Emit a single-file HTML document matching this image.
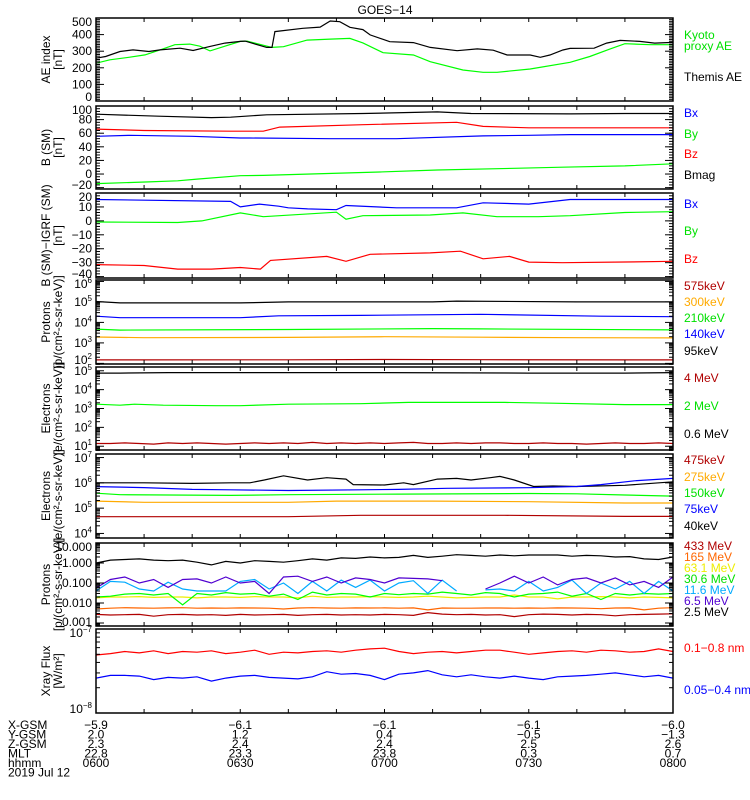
<!DOCTYPE html>
<html><head><meta charset="utf-8">
<style>
html,body{margin:0;padding:0;background:#fff;}
svg{display:block;font-family:"Liberation Sans",sans-serif;}
</style></head>
<body>
<svg id="chart" width="750" height="800" viewBox="0 0 750 800"></svg>
<script>
// ---------- DATA (minutes since 06:00) ----------
const aeThemisT=[0,2,5,7.7,11,13.3,17.5,20.2,23.7,26.8,30,31,35.5,36.6,37.2,43,46.6,48.7,50.7,52.8,55.5,57,61.1,66,69.5,75.1,79.3,82.6,85.5,90.3,92.4,94.4,97.1,98.6,103.6,106.2,109,113.1,116.2,120];
const aeThemisV=[258,268,298,308,298,308,318,304,329,349,359,361,323,323,418,438,445,482,478,444,430,398,357,352,323,303,314,306,277,277,263,277,307,317,318,349,365,359,349,353];
const aeKyotoT=[0,2.9,7,10.2,13.3,16.4,19.5,21.6,23.7,26.8,30,31.4,36.6,39,43.9,48.7,52.8,55.5,59.7,66,69.5,76.3,80.5,83.4,90.3,98.6,102.7,106.8,110,115.2,120];
const aeKyotoV=[228,248,264,278,308,339,343,330,302,330,359,361,323,327,367,373,377,350,291,277,237,187,173,173,193,233,268,312,345,339,339];

const bmagT=[0,13,24,28,35.5,55.5,71,78,98.6,110,120];
const bmagV=[88,85,83,83.6,87,89,91.3,89,88.4,89,89];
const bzT=[0,10,28,34.8,38.2,55.5,75,80.5,90,98.6,110,120];
const bzV=[66,64,63,63,69,72.5,76,70,68,68,68,68];
const bxT=[0,7,20,30,32,48.7,62.5,80.5,90,98.6,110,120];
const bxV=[55.5,57,55.5,53,53,52,52,56,57,58,58,58];
const byT=[0,11,17,21,30,34.8,59,71,87,97,110,120];
const byV=[-14,-11.5,-10,-7.5,-2.5,-2,3,6,8.4,10,12,15];

const dbxT=[0,28,30,34,38,40,44,50,52,62.5,75,80.5,90,98.6,110,120];
const dbxV=[15.3,14,10,12,10.5,9.4,8.6,8,11,9.4,9.4,13,12,15.3,15.3,15.3];
const dbyT=[0,17,22,30,34.8,50,52,55.5,69.5,76.3,83.4,92,98.6,110,120];
const dbyV=[-0.8,-1.2,0,5.7,3,6.2,1.2,3.7,4.2,5.7,3,3,3.7,6,6.6];
const dbzT=[0,10,17,24,30,34.2,36.3,48,52,57,69.5,75.8,80.5,86,90,97,110,120];
const dbzV=[-31.4,-32,-34.6,-34.6,-33.5,-34.6,-28.4,-25.5,-29,-24,-23,-21.8,-27.2,-25.5,-29.6,-30,-29.5,-29];

const p95T=[0,5,30,40,70,75,100,120];   const p95V=[1.05e5,0.9e5,0.9e5,1.0e5,1.0e5,1.1e5,1.0e5,1.0e5];
const p140T=[0,5,30,38,55,80,105,120];  const p140V=[2.0e4,1.7e4,1.7e4,2.1e4,2.2e4,2.5e4,2.0e4,1.9e4];
const p210T=[0,5,40,70,80,120];         const p210V=[4.7e3,4.2e3,4.5e3,5.0e3,4.8e3,4.3e3];
const p300T=[0,10,40,60,80,100,120];    const p300V=[1.95e3,1.8e3,1.85e3,2.0e3,1.9e3,1.8e3,1.75e3];
const p575T=[0,40,60,80,120];           const p575V=[148,150,155,152,148];

const grid3=[0,3,6,9,12,15,18,21,24,27,30,33,36,39,42,45,48,51,54,57,60,63,66,69,72,75,78,81,84,87,90,93,96,99,102,105,108,111,114,117,120];
const e06T=[0,5,15,60,90,110,120];      const e06V=[7.5e4,7.5e4,8e4,8e4,7.5e4,7.5e4,8e4];
const e2T=[0,5,8,14,25,30,40,55,65,85,95,110,120]; const e2V=[1.7e3,1.5e3,1.7e3,1.5e3,1.4e3,1.4e3,1.7e3,1.8e3,2.1e3,2.1e3,1.9e3,1.6e3,1.6e3];
const e4V=[14,14,15,14,13,15,14,15,14,13,14,15,14,15,14,16,14,15,14,15,14,15,16,14,14,15,14,15,15,14,14,15,14,14,13,14,15,14,14,15,14];

const e40T=[0,10,20,28,32,35,39,44,48,52,53.5,60,64,66,71,75,78,82,84,87,91,95,100,110,120];
const e40V=[1.0e6,1.0e6,0.95e6,1.0e6,1.0e6,1.3e6,1.9e6,1.3e6,1.6e6,1.4e6,8.5e5,8.2e5,1.0e6,8.5e5,1.4e6,1.5e6,1.3e6,1.6e6,1.8e6,1.3e6,7.2e5,7.5e5,7.2e5,8e5,1.1e6];
const e75T=[0,10,20,28,40,55,63,73,90,100,105,112,120];
const e75V=[7.1e5,6.5e5,5.5e5,5.3e5,5.0e5,5.3e5,5.5e5,6.1e5,6.4e5,7.2e5,8.5e5,1.2e6,1.5e6];
const e150T=[0,5,28,40,63,90,100,110,120]; const e150V=[3.9e5,3.4e5,3.2e5,3.4e5,3.6e5,3.8e5,3.7e5,3.3e5,3.0e5];
const e275T=[0,10,40,50,70,90,110,120];    const e275V=[1.9e5,1.7e5,1.7e5,1.9e5,1.9e5,1.8e5,1.6e5,1.6e5];
const e475T=[0,40,55,85,110,120];          const e475V=[4.6e4,4.6e4,5.2e4,5.2e4,4.7e4,4.7e4];

const hp25V=[1.0,1.4,1.5,1.6,1.4,1.3,1.4,1.1,0.8,1.2,1.0,1.3,1.2,1.1,1.3,1.6,1.4,1.8,1.7,2.0,1.8,1.9,2.4,1.9,2.2,2.6,2.4,2.2,2.5,2.3,2.5,2.5,2.5,2.2,2.4,2.3,2.0,2.1,1.6,1.5,2.0];
const hp65V=[0.056,0.15,0.2,0.1,0.15,0.06,0.15,0.16,0.1,0.2,0.1,0.12,0.03,0.2,0.22,0.12,0.2,0.1,0.18,0.15,0.1,0.18,0.17,0.16,0.13,null,null,0.05,0.1,0.22,0.1,0.2,0.08,0.15,0.18,0.1,0.18,0.08,0.12,0.06,0.2];
const hp116V=[0.04,0.12,0.11,0.05,0.04,0.11,0.05,0.04,0.04,0.04,0.12,0.15,0.05,0.1,0.03,0.12,0.04,0.14,0.06,0.14,0.04,0.1,0.13,0.03,0.14,0.04,null,0.045,0.05,0.04,0.12,0.04,0.06,0.14,0.03,0.1,0.05,0.12,0.03,0.12,0.04];
const hp306V=[0.02,0.022,0.028,0.03,0.025,0.03,0.008,0.03,0.025,0.033,0.028,0.03,0.022,0.028,0.015,0.035,0.025,0.03,0.028,0.02,0.03,0.026,0.03,0.028,0.035,0.03,0.025,0.033,0.03,0.02,0.028,0.03,0.035,0.022,0.03,0.015,0.03,0.025,0.03,0.028,0.03];
const hp631V=[0.018,0.02,0.02,0.021,0.019,0.02,0.02,0.018,0.02,0.02,0.019,0.021,0.02,0.02,0.018,0.022,0.019,0.02,0.02,0.021,0.02,0.019,0.02,0.022,0.02,0.018,0.019,0.02,0.02,0.025,0.02,0.02,0.016,0.02,0.02,0.021,0.02,0.018,0.02,0.019,0.018];
const hp165V=[0.005,0.0055,0.0058,0.0056,0.0055,0.0057,0.0058,0.0055,0.0056,0.0055,0.0057,0.0056,0.0055,0.005,0.0056,0.0058,0.0056,0.0055,0.0057,0.0056,0.0057,0.0055,0.0057,0.0045,0.0056,0.0055,0.0055,0.0056,0.0056,0.0055,0.0056,0.0055,0.0057,0.0056,0.0055,0.0052,0.0056,0.0057,0.0045,0.0055,0.0058];
const hp433V=[0.0027,0.0025,0.0026,0.0027,0.0022,0.0026,0.0027,0.0025,0.0026,0.0024,0.0027,0.0025,0.0026,0.0027,0.0024,0.0026,0.0027,0.0025,0.0026,0.0025,0.0027,0.0026,0.0024,0.0033,0.0028,0.0026,0.0027,0.0025,0.0026,0.0021,0.0026,0.0028,0.0027,0.0025,0.0027,0.0026,0.0023,0.0026,0.0027,0.0028,0.0029];

const xrLongV=[4.9e-8,5.1e-8,5.4e-8,5.2e-8,5.5e-8,5.1e-8,5.4e-8,5.3e-8,5.5e-8,5.1e-8,5.3e-8,5.6e-8,5.0e-8,5.3e-8,5.2e-8,5.4e-8,5.5e-8,5.3e-8,5.6e-8,5.8e-8,5.9e-8,5.4e-8,5.1e-8,5.3e-8,5.4e-8,5.2e-8,5.4e-8,5.6e-8,5.6e-8,5.3e-8,5.0e-8,5.2e-8,5.4e-8,5.5e-8,5.3e-8,5.6e-8,5.5e-8,5.3e-8,5.4e-8,5.8e-8,5.4e-8];
const xrShortV=[2.6e-8,2.8e-8,2.8e-8,2.75e-8,2.5e-8,2.65e-8,2.6e-8,2.7e-8,2.4e-8,2.6e-8,2.75e-8,2.8e-8,2.65e-8,2.6e-8,2.55e-8,2.7e-8,3.1e-8,2.9e-8,2.95e-8,2.8e-8,2.5e-8,2.9e-8,3.0e-8,3.2e-8,2.85e-8,2.7e-8,2.85e-8,2.7e-8,2.6e-8,2.75e-8,2.6e-8,2.5e-8,2.7e-8,2.75e-8,2.8e-8,2.9e-8,3.0e-8,2.85e-8,2.7e-8,2.8e-8,2.6e-8];

const ephemRows=["X-GSM","Y-GSM","Z-GSM","MLT","hhmm"];
const ephemTimes=[0,30,60,90,120];
const ephemX=["−5.9","−6.1","−6.1","−6.1","−6.0"];
const ephemY=["2.0","1.2","0.4","−0.5","−1.3"];
const ephemZ=["2.3","2.4","2.4","2.5","2.6"];
const ephemMLT=["22.8","23.3","23.8","0.3","0.7"];
const ephemHHMM=["0600","0630","0700","0730","0800"];

// ---------- LAYOUT ----------
const NS="http://www.w3.org/2000/svg";
const svg=document.getElementById('chart');
const X0=96, X1=673, TMAX=120;
function xs(t){return X0+t*(X1-X0)/TMAX;}
const C={blk:'#000',red:'#ff0000',blu:'#0000ff',grn:'#00ff00',gtx:'#00e000',drd:'#b00000',org:'#ffaa00',org2:'#ff6600',yel:'#eeee00',lbl:'#00aaff',pur:'#5000d0'};

function el(tag,attrs,parent){const e=document.createElementNS(NS,tag);for(const k in attrs)e.setAttribute(k,attrs[k]);(parent||svg).appendChild(e);return e;}
function txt(x,y,s,opt,parent){const e=el('text',Object.assign({x:x,y:y,'font-size':12,fill:'#000'},opt||{}),parent);e.textContent=s;return e;}

function makeY(p){
  if(p.log){const a=Math.log10(p.min),b=Math.log10(p.max);return v=>p.bottom-(Math.log10(v)-a)/(b-a)*(p.bottom-p.top);}
  return v=>p.bottom-(v-p.min)/(p.max-p.min)*(p.bottom-p.top);
}

function drawSeries(g,p,ys,T,V,color,name){
  let d='',pen=false;
  for(let i=0;i<T.length;i++){
    if(V[i]===null||V[i]===undefined){pen=false;continue;}
    const X=xs(T[i]).toFixed(1),Y=ys(V[i]).toFixed(1);
    d+=(pen?'L':'M')+X+' '+Y+' ';pen=true;
  }
  const path=el('path',{d:d,fill:'none',stroke:color,'stroke-width':1.2},g);
  
  
}

function drawPanel(p){
  const g=el('g',{});
  
  
  const ys=makeY(p);
  // clip
  const cid='clip-'+p.name;
  const cp=el('clipPath',{id:cid},g);el('rect',{x:X0,y:p.top,width:X1-X0,height:p.bottom-p.top},cp);
  const sg=el('g',{'clip-path':'url(#'+cid+')'},g);
  p.series.forEach(s=>drawSeries(sg,p,ys,s.t,s.v,s.c,s.n));
  // frame
  const fr=el('rect',{x:X0,y:p.top,width:X1-X0,height:p.bottom-p.top,fill:'none',stroke:'#000','stroke-width':1.5},g);
  
  
  // x ticks every 10 min
  for(let t=10;t<TMAX;t+=10){
    const X=xs(t);
    el('line',{x1:X,x2:X,y1:p.bottom,y2:p.bottom-4,stroke:'#000','stroke-width':1},g);
    el('line',{x1:X,x2:X,y1:p.top,y2:p.top+4,stroke:'#000','stroke-width':1},g);
  }
  // y ticks
  const tk=(v,len)=>{const Y=ys(v);if(Y<p.top-0.5||Y>p.bottom+0.5)return;
    el('line',{x1:X0,x2:X0+len,y1:Y,y2:Y,stroke:'#000','stroke-width':1},g);
    el('line',{x1:X1,x2:X1-len,y1:Y,y2:Y,stroke:'#000','stroke-width':1},g);};
  if(p.log){
    const a=Math.floor(Math.log10(p.min)),b=Math.ceil(Math.log10(p.max));
    for(let e=a;e<=b;e++){for(let m=2;m<=9;m++)tk(m*Math.pow(10,e),4);tk(Math.pow(10,e),8);}
  }else{
    for(let v=Math.ceil(p.min/p.minor)*p.minor;v<=p.max;v+=p.minor)tk(v,4);
    p.ticks.forEach(v=>tk(v,8));
  }
  // tick labels
  p.ticks.forEach((v,i)=>{
    let Y=ys(v)+4;Y=Math.max(p.top+8,Math.min(p.bottom,Y));
    const lab=p.labels[i];
    if(lab.exp!==undefined){
      const t=txt(92,Y,'10',{'text-anchor':'end','font-size':12},g);
      const ts=el('tspan',{dy:-5,'font-size':8},t);ts.textContent=lab.exp;
      
    }else{
      const t=txt(92,Y,lab,{'text-anchor':'end','font-size':12},g);
      
    }
  });
  // y-axis titles (rotated)
  const cy=(p.top+p.bottom)/2;
  p.ytitle.forEach((line,i)=>{
    const x=50+i*12;
    const t=txt(x,cy,line,{'text-anchor':'middle','font-size':12,transform:'rotate(-90 '+x+' '+cy+')'},g);
    
  });
  // legend
  p.legend.forEach(l=>{
    const t=txt(684,l.y,l.s,{fill:l.c,'font-size':12},g);
    
  });
}

const sup=e=>({exp:e});
const panels=[
 {name:'ae-panel',top:18,bottom:101,min:0,max:500,minor:10,ticks:[0,100,200,300,400,500],labels:['0','100','200','300','400','500'],
  ytitle:['AE index','[nT]'],
  series:[{t:aeKyotoT,v:aeKyotoV,c:C.grn,n:'kyoto-ae-line'},{t:aeThemisT,v:aeThemisV,c:C.blk,n:'themis-ae-line'}],
  legend:[{s:'Kyoto',y:39,c:C.gtx},{s:'proxy AE',y:50,c:C.gtx},{s:'Themis AE',y:81,c:C.blk}]},
 {name:'bsm-panel',top:106,bottom:189,min:-22,max:100,minor:4,ticks:[-20,0,20,40,60,80,100],labels:['−20','0','20','40','60','80','100'],
  ytitle:['B (SM)','[nT]'],
  series:[{t:bmagT,v:bmagV,c:C.blk,n:'bmag-line'},{t:bzT,v:bzV,c:C.red,n:'bz-line'},{t:bxT,v:bxV,c:C.blu,n:'bx-line'},{t:byT,v:byV,c:C.grn,n:'by-line'}],
  legend:[{s:'Bx',y:117,c:C.blu},{s:'By',y:138,c:C.gtx},{s:'Bz',y:158,c:C.red},{s:'Bmag',y:179,c:C.blk}]},
 {name:'bigrf-panel',top:193,bottom:278,min:-41,max:20,minor:2,ticks:[-40,-30,-20,-10,0,10,20],labels:['−40','−30','−20','−10','0','10','20'],
  ytitle:['B (SM)−IGRF (SM)','[nT]'],
  series:[{t:dbxT,v:dbxV,c:C.blu,n:'dbx-line'},{t:dbyT,v:dbyV,c:C.grn,n:'dby-line'},{t:dbzT,v:dbzV,c:C.red,n:'dbz-line'}],
  legend:[{s:'Bx',y:208,c:C.blu},{s:'By',y:235,c:C.gtx},{s:'Bz',y:263,c:C.red}]},
 {name:'mag-protons-panel',log:true,top:280,bottom:364,min:Math.pow(10,1.97),max:Math.pow(10,6.07),ticks:[1e2,1e3,1e4,1e5,1e6],labels:[sup('2'),sup('3'),sup('4'),sup('5'),sup('6')],
  ytitle:['Protons','[p/(cm²-s-sr-keV)]'],
  series:[{t:p95T,v:p95V,c:C.blk,n:'p95kev-line'},{t:p140T,v:p140V,c:C.blu,n:'p140kev-line'},{t:p210T,v:p210V,c:C.grn,n:'p210kev-line'},{t:p300T,v:p300V,c:C.org,n:'p300kev-line'},{t:p575T,v:p575V,c:C.drd,n:'p575kev-line'}],
  legend:[{s:'575keV',y:290,c:C.drd},{s:'300keV',y:306,c:C.org},{s:'210keV',y:322,c:C.gtx},{s:'140keV',y:338,c:C.blu},{s:'95keV',y:355,c:C.blk}]},
 {name:'mev-electrons-panel',log:true,top:367,bottom:450,min:Math.pow(10,0.8),max:Math.pow(10,5.2),ticks:[1e1,1e2,1e3,1e4,1e5],labels:[sup('1'),sup('2'),sup('3'),sup('4'),sup('5')],
  ytitle:['Electrons','[e/(cm²-s-sr-keV)]'],
  series:[{t:e06T,v:e06V,c:C.blk,n:'e06mev-line'},{t:e2T,v:e2V,c:C.grn,n:'e2mev-line'},{t:grid3,v:e4V,c:C.drd,n:'e4mev-line'}],
  legend:[{s:'4 MeV',y:382,c:C.drd},{s:'2 MeV',y:410,c:C.gtx},{s:'0.6 MeV',y:438,c:C.blk}]},
 {name:'kev-electrons-panel',log:true,top:454,bottom:538,min:Math.pow(10,3.82),max:Math.pow(10,7.14),ticks:[1e4,1e5,1e6,1e7],labels:[sup('4'),sup('5'),sup('6'),sup('7')],
  ytitle:['Electrons','[e/(cm²-s-sr-keV)]'],
  series:[{t:e40T,v:e40V,c:C.blk,n:'e40kev-line'},{t:e75T,v:e75V,c:C.blu,n:'e75kev-line'},{t:e150T,v:e150V,c:C.grn,n:'e150kev-line'},{t:e275T,v:e275V,c:C.org,n:'e275kev-line'},{t:e475T,v:e475V,c:C.drd,n:'e475kev-line'}],
  legend:[{s:'475keV',y:464,c:C.drd},{s:'275keV',y:481,c:C.org},{s:'150keV',y:497,c:C.gtx},{s:'75keV',y:513,c:C.blu},{s:'40keV',y:530,c:C.blk}]},
 {name:'hep-protons-panel',log:true,top:543,bottom:626,min:Math.pow(10,-3.15),max:10,ticks:[0.001,0.01,0.1,1,10],labels:['0.001','0.010','0.100','1.000','10.000'],
  ytitle:['Protons','[p/(cm²-s-sr-keV)]'],
  series:[{t:grid3,v:hp433V,c:C.drd,n:'p433mev-line'},{t:grid3,v:hp165V,c:C.org2,n:'p165mev-line'},{t:grid3,v:hp631V,c:C.yel,n:'p63mev-line'},{t:grid3,v:hp306V,c:C.grn,n:'p30mev-line'},{t:grid3,v:hp116V,c:C.lbl,n:'p11mev-line'},{t:grid3,v:hp65V,c:C.pur,n:'p6mev-line'},{t:grid3,v:hp25V,c:C.blk,n:'p2mev-line'}],
  legend:[{s:'433 MeV',y:550,c:C.drd},{s:'165 MeV',y:561,c:C.org2},{s:'63.1 MeV',y:572,c:C.yel},{s:'30.6 MeV',y:583,c:C.gtx},{s:'11.6 MeV',y:594,c:C.lbl},{s:'6.5 MeV',y:605,c:C.pur},{s:'2.5 MeV',y:616,c:C.blk}]},
 {name:'xray-panel',log:true,top:629,bottom:713,min:1e-8,max:1e-7,ticks:[1e-8,1e-7],labels:[sup('−8'),sup('−7')],
  ytitle:['Xray Flux','[W/m²]'],
  series:[{t:grid3,v:xrLongV,c:C.red,n:'xray-long-line'},{t:grid3,v:xrShortV,c:C.blu,n:'xray-short-line'}],
  legend:[{s:'0.1−0.8 nm',y:652,c:C.red},{s:'0.05−0.4 nm',y:694,c:C.blu}]}
];
panels.forEach(drawPanel);

// title
const title=txt(385,14,'GOES−14',{'text-anchor':'middle','font-size':12});



// ephemeris table
const rowsY=[729,738.5,748,757.5,767];
const rowVals=[ephemX,ephemY,ephemZ,ephemMLT,ephemHHMM];
ephemRows.forEach((r,i)=>{
  const t=txt(8,rowsY[i],r,{'font-size':12});
  
  
  ephemTimes.forEach((tm,j)=>{
    const v=txt(xs(tm),rowsY[i],rowVals[i][j],{'text-anchor':'middle','font-size':12});
    
    
  });
});
const dt=txt(8,776.5,'2019 Jul 12',{'font-size':12});


</script>
</body></html>
